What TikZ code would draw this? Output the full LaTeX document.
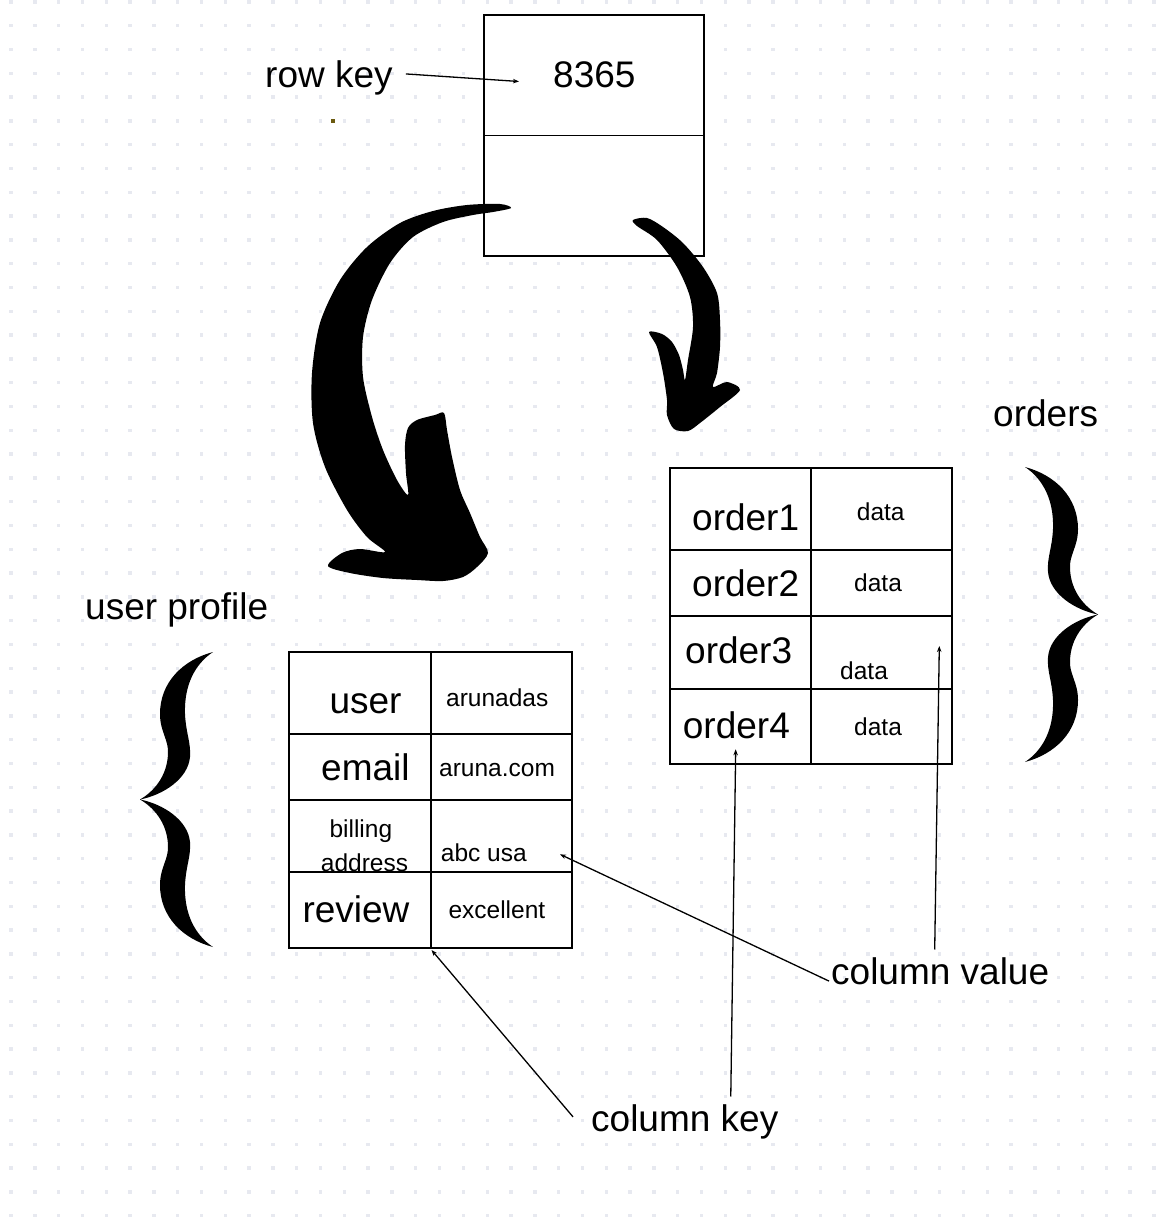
\documentclass[tikz,border=0pt]{standalone}
\usepackage{fontspec}
\setmainfont{Liberation Sans}
\usetikzlibrary{arrows.meta}
\definecolor{dotgrey}{RGB}{231,233,240}
\definecolor{speckolive}{RGB}{107,90,16}
\tikzset{
	pics/curlybrace/.style={code={
		%upper half, then lower half, then back along the inner edges
		\fill (0,0) .. controls (30,8) and (53,30) .. (53,62)
			.. controls (53,80) and (44,88) .. (45,102)
			.. controls (46,125) and (60,140) .. (73,147.5)
			.. controls (60,155) and (46,170) .. (45,193)
			.. controls (44,207) and (53,215) .. (53,233)
			.. controls (53,265) and (30,287) .. (0,295)
			.. controls (18,283) and (29,262) .. (28,233)
			.. controls (27,213) and (22,205) .. (23,190)
			.. controls (25,168) and (50,152) .. (73,147.5)
			.. controls (50,143) and (25,127) .. (23,105)
			.. controls (22,90) and (27,82) .. (28,62)
			.. controls (29,33) and (18,12) .. (0,0) -- cycle;
	}}
}
\begin{document}
\begin{tikzpicture}[x=1pt,y=-1pt,
	bigtxt/.style={font=\fontsize{37}{42}\selectfont,inner sep=0pt,anchor=base west},
	smalltxt/.style={font=\fontsize{24.5}{28}\selectfont,inner sep=0pt,anchor=base west},
	cellline/.style={line width=1.7pt},
	pointer/.style={line width=1.3pt,-{Stealth[length=6pt,width=4.5pt]}}]
	\useasboundingbox (0,0) rectangle (1170,1228);

	%Dotted paper
	\foreach \i in {0,...,48}
		\foreach \j in {0,...,51}
			\fill[dotgrey] (9.3+23.81*\i,0.2+23.8*\j) rectangle +(3.4,3.4);

	%The row box: key on top, columns below
	\draw[cellline,fill=white] (484,15) rectangle (704,256);
	\draw[cellline] (484,135.5) -- (704,135.5);
	\node[bigtxt] (rowid) at (553,87.5) {8365};
	\node[bigtxt] (rowkey) at (265,88) {row key};
	\coordinate (rowkey tip) at (519,81.5);
	\draw[pointer] ([xshift=13pt,yshift=4.5pt]rowkey.east) -- (rowkey tip);
	\fill[speckolive] (331,118.7) rectangle +(4,4);

	%Big arrow to the user profile
	\fill plot[smooth cycle,tension=0.5] coordinates {
		(511,208) (500,204) (467,205) (433,211) (400,223) (367,247) (340,280)
		(320,323) (312,373) (313,423) (325,467) (347,510) (367,537) (385,552)
		(360,549) (342,553) (328,566) (350,573) (383,578) (417,580) (443,581)
		(463,577) (477,567) (488,553) (480,537) (470,513) (460,490) (452,457)
		(447,430) (444,413) (435,415) (417,420) (408,428) (405,445) (406,473)
		(408,495) (397,480) (383,450) (372,417) (363,377) (363,337) (372,300)
		(390,263) (413,237) (443,222) (473,215) (493,212)};

	%Small arrow to the orders
	\fill plot[smooth cycle,tension=0.5] coordinates {
		(633,220) (647,218) (663,227) (683,243) (703,267) (717,293) (720,320)
		(720,347) (717,373) (713,387) (727,382) (740,390) (720,407) (700,423)
		(688,431) (674,429) (667,415) (667,400) (663,373) (657,347) (649,332)
		(662,334) (672,342) (679,355) (683,370) (685,380) (688,360) (693,327)
		(690,297) (677,267) (657,240) (637,226)};

	%Table of the orders
	\draw[cellline,fill=white] (670,467.7) rectangle (952.3,764);
	\draw[cellline] (811,467.7) -- (811,764);
	\foreach \y in {550,615.7,688.7}
		\draw[cellline] (670,\y) -- (952.3,\y);
	\node[bigtxt] (order1) at (692,530) {order1};
	\node[bigtxt] (order2) at (692,596.7) {order2};
	\node[bigtxt] (order3) at (685,663.3) {order3};
	\node[bigtxt] (order4) at (682.7,738.3) {order4};
	\node[smalltxt] (data1) at (856.7,520.7) {data};
	\node[smalltxt] (data2) at (854,591.7) {data};
	\node[smalltxt] (data3) at (840,679) {data};
	\node[smalltxt] (data4) at (854,735) {data};
	\node[bigtxt] (orders) at (993,426) {orders};
	\pic at (1025,467) {curlybrace};

	%Table of the user profile
	\draw[cellline,fill=white] (289.3,651.7) rectangle (572,948);
	\draw[cellline] (430.7,651.7) -- (430.7,948);
	\foreach \y in {734.3,800,872.3}
		\draw[cellline] (289.3,\y) -- (572,\y);
	\node[bigtxt] (user) at (329.3,713.3) {user};
	\node[bigtxt] (email) at (321,780) {email};
	\node[smalltxt] (billing) at (329.3,837.5) {billing};
	\node[smalltxt] (address) at (320.7,871) {address};
	\node[bigtxt] (review) at (302.3,922.7) {review};
	\node[smalltxt] (username) at (446,706.7) {arunadas};
	\node[smalltxt] (mail) at (439,776) {aruna.com};
	\node[smalltxt] (street) at (440.7,861.7) {abc usa};
	\node[smalltxt] (grade) at (448.3,918.3) {excellent};
	\node[bigtxt] (profile) at (85,619) {user profile};
	\pic[xscale=-1] at (213,652) {curlybrace};

	%Column key and column value
	\node[bigtxt] (colkey) at (591,1131) {column key};
	\node[bigtxt] (colval) at (831,984) {column value};
	\coordinate (ck cell) at (431.5,950);
	\coordinate (ck order) at (735.7,749.3);
	\coordinate (cv cell) at (560,854.3);
	\coordinate (cv order) at (939.3,646);
	\draw[pointer] ([xshift=-18pt,yshift=4.6pt]colkey.west) -- (ck cell);
	\draw[pointer] ([xshift=46pt,yshift=7.5pt]colkey.north) -- (ck order);
	\draw[pointer] ([xshift=-2pt,yshift=-10.3pt]colval.west) -- (cv cell);
	\draw[pointer] ([xshift=-5.5pt,yshift=7.5pt]colval.north) -- (cv order);
\end{tikzpicture}
\end{document}
